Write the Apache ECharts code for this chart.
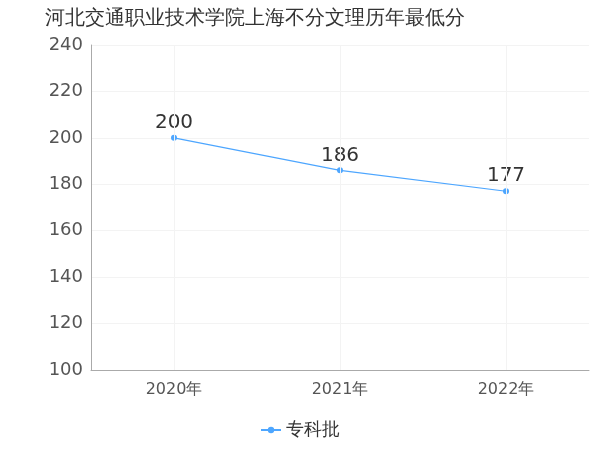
<!DOCTYPE html>
<html><head><meta charset="utf-8">
<script src="https://cdn.jsdelivr.net/npm/echarts@6/dist/echarts.min.js"></script>
</head><body style="margin:0">
<div id="c" style="width:600px;height:450px"></div>
<script>
const categories = ['2020年','2021年','2022年'];
const values = [200,186,177];
const yTicks = {min:100,max:240,interval:20};
const F = '"DejaVu Sans", sans-serif';
const chart = echarts.init(document.getElementById('c'));
chart.setOption({
  textStyle:{fontFamily:F},
  title:{text:'河北交通职业技术学院上海不分文理历年最低分',left:40,top:4,textStyle:{fontSize:20,fontWeight:'normal',color:'#333',fontFamily:F}},
  grid:{left:91,right:11,top:45,bottom:80},
  legend:{bottom:6,itemGap:10,itemWidth:20,itemHeight:8,textStyle:{fontSize:18,color:'#333',fontFamily:F},data:['专科批']},
  xAxis:{type:'category',data:categories,boundaryGap:true,
    axisLine:{lineStyle:{color:'#aaa'}},axisTick:{show:false},
    axisLabel:{fontSize:16,color:'#555',margin:12,fontFamily:F,interval:0},
    splitLine:{show:false}},
  yAxis:{type:'value',min:yTicks.min,max:yTicks.max,interval:yTicks.interval,
    axisLine:{show:true,lineStyle:{color:'#aaa'}},axisTick:{show:false},
    axisLabel:{fontSize:18,color:'#555',fontFamily:F},
    splitLine:{lineStyle:{color:'#f3f3f3'}}},
  series:[{name:'专科批',type:'line',data:values,symbol:'circle',symbolSize:6,
    itemStyle:{color:'#4da6ff'},lineStyle:{width:1.2,color:'#4da6ff'},
    markLine:{silent:true,symbol:'none',label:{show:false},lineStyle:{color:'#f3f3f3',type:'solid',width:1},
      data:categories.map(c=>({xAxis:c}))},
    label:{show:true,position:'top',distance:2,fontSize:20,color:'#333',fontFamily:F}}]
});
</script></body></html>
